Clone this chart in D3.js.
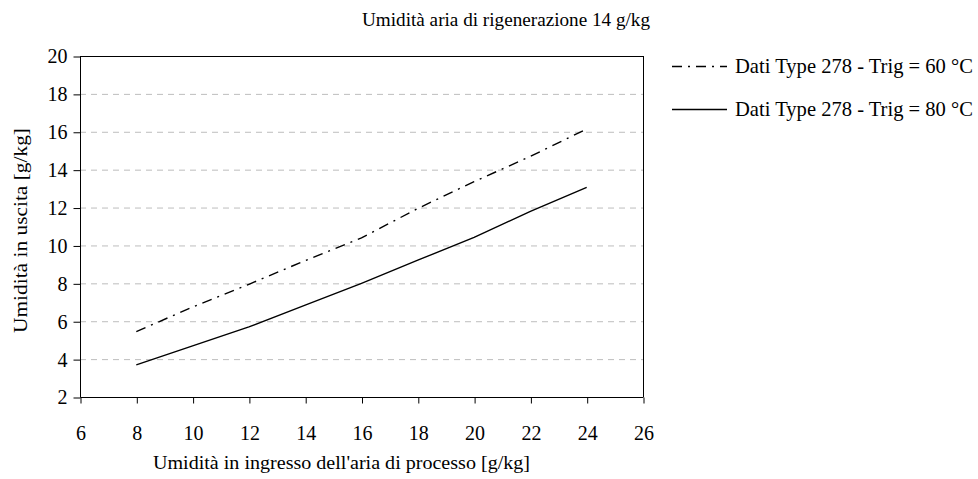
<!DOCTYPE html>
<html>
<head>
<meta charset="utf-8">
<script src="https://cdn.jsdelivr.net/npm/d3@7"></script>
<style>
  html, body { margin: 0; padding: 0; background: #fff; }
  svg text { font-family: "Liberation Serif", Tinos, "Times New Roman", Times, "DejaVu Serif", "Noto Serif", serif !important; fill: #000; }
</style>
</head>
<body>
<svg id="chart" width="978" height="479"></svg>
<script>
const xValues = [8, 10, 12, 14, 16, 18, 20, 22, 24];
const trig60 = [5.45, 6.75, 7.95, 9.2, 10.4, 11.95, 13.37, 14.7, 16.15];
const trig80 = [3.7, 4.7, 5.7, 6.85, 8.0, 9.22, 10.43, 11.8, 13.07];
const xTicks = [6, 8, 10, 12, 14, 16, 18, 20, 22, 24, 26];
const yTicks = [2, 4, 6, 8, 10, 12, 14, 16, 18, 20];
const seriesNames = ["Dati Type 278 - Trig = 60 °C", "Dati Type 278 - Trig = 80 °C"];
const titleText = "Umidità aria di rigenerazione 14 g/kg";
const xLabel = "Umidità in ingresso dell'aria di processo  [g/kg]";
const yLabel = "Umidità in uscita [g/kg]";

const svg = d3.select("#chart");
const plot = { left: 80, right: 643, top: 56, bottom: 397 };
const x = d3.scaleLinear().domain([6, 26]).range([plot.left, plot.right]);
const y = d3.scaleLinear().domain([2, 20]).range([plot.bottom, plot.top]);

// gridlines
svg.append("g").selectAll("line")
  .data(yTicks.filter(v => v > 2 && v < 20))
  .join("line")
  .attr("x1", plot.left).attr("x2", plot.right)
  .attr("y1", d => y(d) + 0.5).attr("y2", d => y(d) + 0.5)
  .attr("stroke", "#bdbdbd").attr("stroke-width", 1)
  .attr("stroke-dasharray", "6,5");

// frame top and right
svg.append("line").attr("x1", plot.left).attr("x2", plot.right)
  .attr("y1", plot.top + 0.5).attr("y2", plot.top + 0.5)
  .attr("stroke", "#000").attr("stroke-width", 1);
svg.append("line").attr("x1", plot.right + 0.5).attr("x2", plot.right + 0.5)
  .attr("y1", plot.top).attr("y2", plot.bottom)
  .attr("stroke", "#000").attr("stroke-width", 1);

// axes
const xAxis = d3.axisBottom(x).tickValues(xTicks).tickSize(6).tickPadding(22).tickFormat(d3.format("d"));
const gx = svg.append("g").attr("transform", `translate(0.5,${plot.bottom + 0.5})`).call(xAxis);
const yAxis = d3.axisLeft(y).tickValues(yTicks).tickSize(7).tickPadding(6).tickFormat(d3.format("d"));
const gy = svg.append("g").attr("transform", `translate(${plot.left + 0.5},0.5)`).call(yAxis);
[gx, gy].forEach(g => {
  g.attr("font-family", null);
  g.select(".domain").attr("stroke", "#000");
  g.selectAll(".tick line").attr("stroke", "#000");
  g.selectAll(".tick text").attr("font-size", 20).attr("fill", "#000");
});
gx.select(".domain").attr("d", `M${plot.left},0H${plot.right}`);
gy.select(".domain").attr("d", `M0,${plot.bottom}V${plot.top}`);

// lines
const line = d3.line().x(d => x(d[0])).y(d => y(d[1]));
svg.append("path").datum(xValues.map((v, i) => [v, trig60[i]]))
  .attr("d", line).attr("fill", "none").attr("stroke", "#000")
  .attr("stroke-width", 1.4).attr("stroke-dasharray", "10,6,2,6");
svg.append("path").datum(xValues.map((v, i) => [v, trig80[i]]))
  .attr("d", line).attr("fill", "none").attr("stroke", "#000")
  .attr("stroke-width", 1.4);

// legend
const legendY = [66, 109];
const dashes = ["10,6,2,6", null];
seriesNames.forEach((name, i) => {
  svg.append("line").attr("x1", 672).attr("x2", 727)
    .attr("y1", legendY[i] + 0.5).attr("y2", legendY[i] + 0.5)
    .attr("stroke", "#000").attr("stroke-width", 1.4)
    .attr("stroke-dasharray", dashes[i]);
  svg.append("text").attr("x", 735).attr("y", legendY[i] + 7)
    .attr("font-size", 21).attr("textLength", 238).attr("lengthAdjust", "spacingAndGlyphs")
    .text(name);
});

// title
svg.append("text").attr("x", 362).attr("y", 26).attr("font-size", 19)
  .attr("textLength", 288).attr("lengthAdjust", "spacingAndGlyphs").text(titleText);

// x label
svg.append("text").attr("x", 153).attr("y", 469).attr("font-size", 19)
  .attr("textLength", 377).attr("lengthAdjust", "spacingAndGlyphs").text(xLabel);

// y label
svg.append("text").attr("transform", "translate(27,333) rotate(-90)")
  .attr("x", 0).attr("y", 0).attr("font-size", 19)
  .attr("textLength", 205).attr("lengthAdjust", "spacingAndGlyphs").text(yLabel);
</script>
</body>
</html>
